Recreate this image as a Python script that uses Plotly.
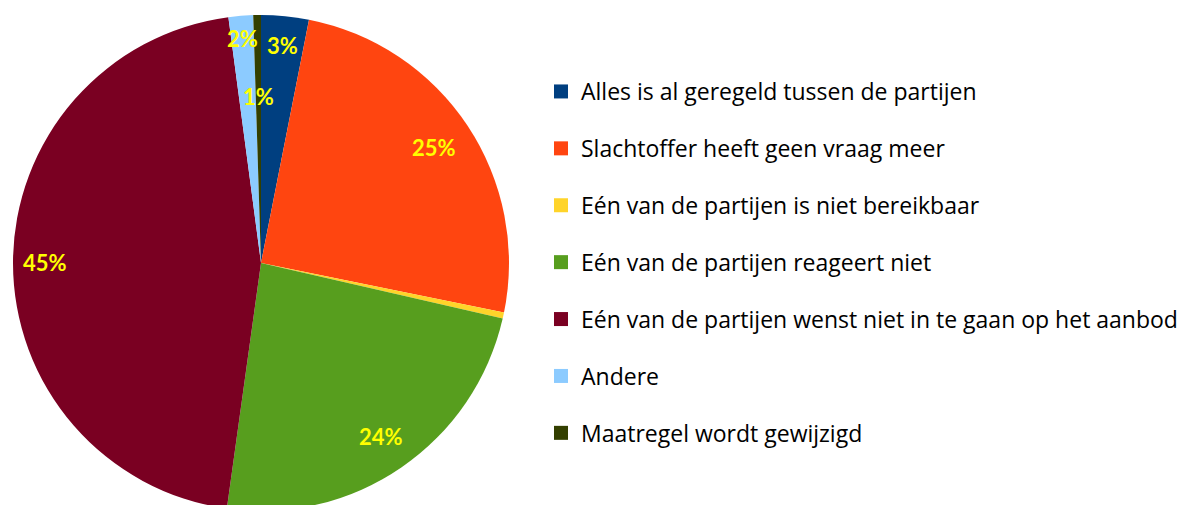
import math
import plotly.graph_objects as go

labels = [
    "Alles is al geregeld tussen de partijen",
    "Slachtoffer heeft geen vraag meer",
    "Eén van de partijen is niet bereikbaar",
    "Eén van de partijen reageert niet",
    "Eén van de partijen wenst niet in te gaan op het aanbod",
    "Andere",
    "Maatregel wordt gewijzigd",
]
values = [3.1, 25.1, 0.4, 23.6, 45.7, 1.6, 0.5]
pct_text = ["3%", "25%", "", "24%", "45%", "2%", "1%"]
label_radius = [0.88, 0.84, 0.85, 0.85, 0.87, 0.91, 0.67]
colors = ["#003F80", "#FF4510", "#FFD42A", "#579E1E", "#7A0022", "#8CCBFF", "#333F00"]

W, H = 1186, 505
# pie domain in pixels (figure coordinates)
px_left, px_right = 5, 501
px_top, px_bottom = 7, 503
dom_x = [px_left / W, px_right / W]
dom_y = [1 - px_bottom / H, 1 - px_top / H]

fig = go.Figure()
fig.add_trace(go.Pie(
    labels=labels, values=values, sort=False, direction="clockwise", rotation=0,
    marker=dict(colors=colors, line=dict(width=0)),
    textinfo="none", hoverinfo="label+percent", showlegend=False,
    domain=dict(x=dom_x, y=dom_y),
))

# legend via marker-only traces
for lab, col in zip(labels, colors):
    fig.add_trace(go.Scatter(
        x=[None], y=[None], mode="markers", name=lab, legendgroup=lab,
        marker=dict(symbol="square", size=14, color=col),
    ))

# percentage labels placed from cumulative values
diam = min(px_right - px_left, px_bottom - px_top)
R = diam / 2
cx = (px_left + px_right) / 2
cy = (px_top + px_bottom) / 2
total = sum(values)
cum = 0
for v, t, f in zip(values, pct_text, label_radius):
    mid = (cum + v / 2) / total * 2 * math.pi
    cum += v
    if not t:
        continue
    x = cx + f * R * math.sin(mid)
    y = cy - f * R * math.cos(mid)
    fig.add_annotation(
        x=x / W, y=1 - y / H, xref="paper", yref="paper", text=t, showarrow=False,
        xanchor="center", yanchor="middle",
        font=dict(family="Lato, Open Sans, sans-serif", size=22, color="#FFFF00", weight="bold"),
    )

fig.update_layout(
    width=W, height=H, margin=dict(l=0, r=0, t=0, b=0),
    paper_bgcolor="white", plot_bgcolor="white",
    xaxis=dict(visible=False), yaxis=dict(visible=False),
    legend=dict(
        x=533 / W, xanchor="left", y=1 - 62 / H, yanchor="top",
        font=dict(family="Open Sans, sans-serif", size=23, color="#000000"),
        tracegroupgap=24, bgcolor="rgba(0,0,0,0)",
    ),
)

fig.write_html("out.html")
